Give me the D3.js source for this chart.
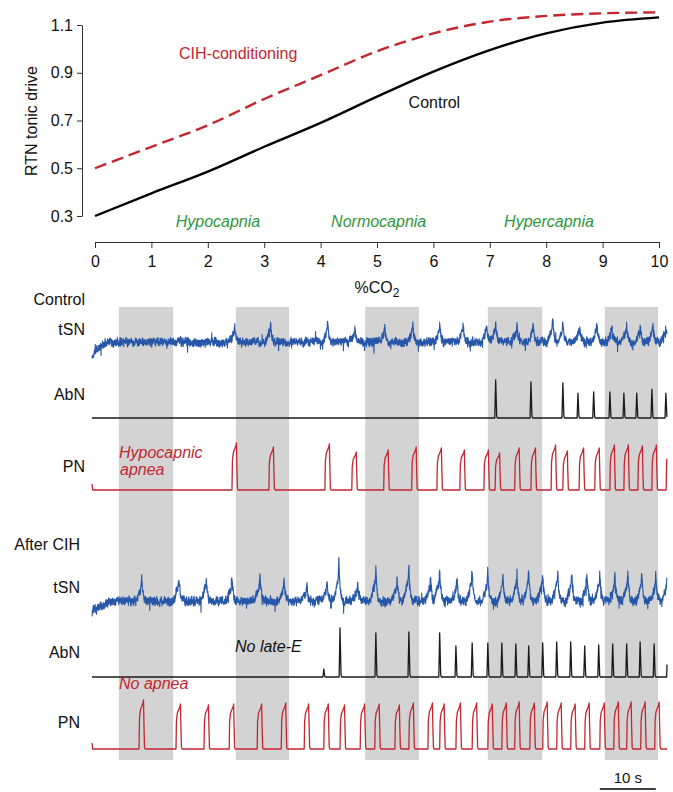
<!DOCTYPE html>
<html><head><meta charset="utf-8">
<script src="https://cdn.jsdelivr.net/npm/d3@7"></script>
<style>body{margin:0;background:#fff}svg{display:block}</style>
</head><body><svg id="c" width="673" height="792"></svg>
<script>
// ================= DATA =================
// Top panel: RTN tonic drive vs %CO2
const co2 = [0,1,2,3,4,5,6,7,8,9,10];
const controlDrive = [0.30,0.395,0.486,0.59,0.69,0.80,0.905,0.995,1.065,1.11,1.132];
const cihDrive     = [0.50,0.59,0.68,0.79,0.89,0.99,1.065,1.114,1.138,1.149,1.153];
const yTicks = [0.3,0.5,0.7,0.9,1.1];
const xTicks = [0,1,2,3,4,5,6,7,8,9,10];
const regionLabels = ["Hypocapnia","Normocapnia","Hypercapnia"];
const regionCenters = [2.18,5.03,8.05];

// Bottom panel: nerve recordings (time in s)
const traceDuration = 102.7;
const co2Bands = [[4.8,14.5],[25.7,35.2],[48.8,58.4],[70.7,80.4],[91.6,101.1]];

// Control
const ctrlTsnTimes = [25.5,31.9,42.1,47.0,52.3,57.3,62.1,66.3,70.5,72.1,75.9,78.8,82.3,84.1,87.1,90.2,92.9,95.5,97.9,100.2,102.5];
const ctrlTsnAmps  = [0.75,0.95,0.95,0.75,0.9,0.9,0.85,0.85,0.9,1.0,0.9,0.9,1.1,0.9,0.85,0.95,0.85,0.85,0.85,0.85,0.75];
const ctrlAbnTimes = [72.1,78.4,84.1,86.8,89.6,92.5,95.0,97.3,100.0,102.5];
const ctrlAbnAmps  = [0.95,0.9,0.875,0.62,0.65,0.65,0.62,0.62,0.72,0.62];
const ctrlPnTimes  = [25.0,31.6,41.6,46.4,52.1,57.1,61.6,65.7,70.0,72.0,75.5,78.4,82.0,84.1,87.0,89.8,92.5,95.0,97.5,100.0,102.55];
const ctrlPnAmps   = [0.94,0.86,0.92,0.76,0.80,0.86,0.84,0.80,0.80,0.74,0.84,0.84,0.90,0.78,0.84,0.84,0.90,0.90,0.88,0.90,0.9];

// After CIH
const cihTsnTimes = [8.9,15.5,20.4,25.0,30.0,34.3,38.4,42.0,44.1,47.5,50.7,54.5,56.6,60.5,62.1,65.2,67.9,70.7,73.4,75.9,78.0,80.5,83.2,85.7,88.4,90.7,93.4,95.7,98.2,100.7,102.7];
const cihTsnAmps  = [0.8,0.83,0.77,0.8,0.87,0.8,0.6,0.7,1.37,0.63,1.13,0.77,1.27,0.8,1.1,0.8,1.03,1.03,0.93,0.93,1.03,0.93,1.1,0.97,0.93,0.97,0.93,0.93,0.97,0.93,0.8];
const cihAbnTimes = [41.4,44.3,50.7,56.6,62.1,65.0,67.9,70.7,73.2,75.7,78.0,80.5,83.0,85.5,88.0,90.5,93.0,95.5,97.9,100.4,102.8];
const cihAbnAmps  = [0.16,0.98,0.88,0.9,0.88,0.62,0.68,0.68,0.68,0.66,0.62,0.68,0.7,0.7,0.62,0.64,0.66,0.66,0.7,0.66,0.66];
const cihPnTimes  = [8.4,15.0,20.0,24.5,29.5,33.8,37.9,41.4,44.3,47.9,50.5,54.1,56.6,60.0,62.1,65.0,67.9,70.7,73.2,75.5,78.2,80.5,83.0,85.5,88.0,90.7,93.2,95.5,98.0,100.5];
const cihPnAmps   = [0.98,0.9,0.88,0.9,0.9,0.92,0.9,0.9,0.88,0.9,0.9,0.88,0.92,0.92,0.9,0.92,0.92,0.9,0.92,0.94,0.92,0.94,0.92,0.9,0.92,0.92,0.94,0.94,0.94,0.94];

// Waveform shapes (time offset s, fraction of amplitude)
const pnShape  = [[0,0],[0.08,0.62],[0.25,0.8],[0.7,0.94],[0.8,1.0],[0.88,0.5],[0.98,0.03],[1.1,0]];
const abnShape = [[-0.16,0],[0,1],[0.18,0.05],[0.3,0]];
const tsnShape = [[-1.0,0],[-0.5,0.3],[-0.15,0.55],[0,1],[0.1,0.55],[0.35,0.15],[0.7,0]];
const ctrlTsnStart = [[0,-0.8],[0.5,-0.5],[1.3,-0.2],[3,0]];
const cihTsnStart  = [[0,-0.35],[1,-0.2],[3,-0.05],[4.5,0]];
const pnStart = [[0,0.12],[0.12,0]];

// ================= DRAW =================
const FONT = "'Liberation Sans', Arial, Helvetica, sans-serif";
const svg = d3.select("#c").style("font-family", FONT);
const RED = "#c3262e", GREEN = "#2f963a", BLUE = "#2656a8";

// ---- Top chart ----
const x = d3.scaleLinear().domain([0,10]).range([95,659]);
const y = d3.scaleLinear().domain([0.3,1.1]).range([216,25]);

const yAx = svg.append("g").attr("transform","translate(82,0)")
  .call(d3.axisLeft(y).tickValues(yTicks).tickSize(5).tickSizeOuter(0).tickPadding(4).tickFormat(d3.format(".1f")));
const xAx = svg.append("g").attr("transform","translate(0,242)")
  .call(d3.axisBottom(x).tickValues(xTicks).tickSize(6).tickSizeOuter(0).tickPadding(8));
[yAx,xAx].forEach(a=>{
  a.selectAll("text").style("font-size","16px").style("font-family",FONT).attr("fill","#111");
  a.selectAll("line,path").attr("stroke","#333");
});

svg.append("text").attr("transform","translate(37,121) rotate(-90)")
  .attr("text-anchor","middle").style("font-size","16px").attr("fill","#111").text("RTN tonic drive");
const xl = svg.append("text").attr("x",377).attr("y",293).attr("text-anchor","middle")
  .style("font-size","16px").attr("fill","#111");
xl.append("tspan").text("%CO");
xl.append("tspan").attr("dy",4).style("font-size","12px").text("2");

const line = d3.line().x((d,i)=>x(co2[i])).y(d=>y(d)).curve(d3.curveMonotoneX);
svg.append("path").attr("d",line(cihDrive)).attr("fill","none").attr("stroke",RED)
  .attr("stroke-width",2.4).attr("stroke-dasharray","12,6");
svg.append("path").attr("d",line(controlDrive)).attr("fill","none").attr("stroke","#000")
  .attr("stroke-width",2.4);

svg.append("text").attr("x",x(1.49)).attr("y",y(0.958)).style("font-size","16px").attr("fill",RED).text("CIH-conditioning");
svg.append("text").attr("x",x(5.56)).attr("y",y(0.752)).style("font-size","16px").attr("fill","#111").text("Control");
regionLabels.forEach((s,i)=>{
  svg.append("text").attr("x",x(regionCenters[i])).attr("y",227).attr("text-anchor","middle")
    .style("font-size","16px").style("font-style","italic").attr("fill",GREEN).text(s);
});

// ---- Bottom traces ----
const t = d3.scaleLinear().domain([0,traceDuration]).range([92,667]);
svg.append("g").selectAll("rect").data(co2Bands).join("rect")
  .attr("x",d=>t(d[0])).attr("width",d=>t(d[1])-t(d[0]))
  .attr("y",307).attr("height",453).attr("fill","#d3d3d3");

function shapeAt(tpl, dt){
  if(dt<=tpl[0][0]||dt>=tpl[tpl.length-1][0]) return 0;
  for(let i=1;i<tpl.length;i++){
    if(dt<=tpl[i][0]){const [t0,v0]=tpl[i-1],[t1,v1]=tpl[i];return v0+(v1-v0)*(dt-t0)/(t1-t0);}
  }
  return 0;
}
function hash(i,seed){const s=Math.sin(i*12.9898+seed*78.233)*43758.5453;return s-Math.floor(s);}
// recording-noise texture (deterministic), not data
function texture(seed, amp, spike){
  return i=>{
    const a=hash(i,seed)-0.5, b=hash(i,seed+1.7), c=hash(i,seed+3.1), d=hash(Math.floor(i/5),seed+5.3)-0.5;
    let v=a*2*amp + d*amp*1.2;
    if(b>0.975) v-=spike*c;
    else if(b<0.012) v+=spike*0.7*c;
    return v;
  };
}
function buildTrace(times, amps, shape, step, start, tex){
  const n=Math.round(traceDuration/step), pts=[];
  for(let i=0;i<=n;i++){
    const tt=Math.min(i*step,traceDuration);
    let v=0;
    for(let k=0;k<times.length;k++) v+=amps[k]*shapeAt(shape, tt-times[k]);
    if(start) v+= (tt<=start[start.length-1][0]) ? (tt===0?start[0][1]:shapeAt(start,tt)) : 0;
    if(tex) v+=tex(i);
    pts.push([tt,v]);
  }
  return pts;
}
function drawTrace(pts, y0, pxPerUnit, color, width){
  const ys = d3.scaleLinear().domain([0,1]).range([y0,y0-pxPerUnit]);
  svg.append("path").attr("d", d3.line().x(d=>t(d[0])).y(d=>ys(d[1]))(pts))
    .attr("fill","none").attr("stroke",color).attr("stroke-width",width).attr("stroke-linejoin","round");
}

drawTrace(buildTrace(ctrlTsnTimes,ctrlTsnAmps,tsnShape,0.03,ctrlTsnStart,texture(1,0.17,0.45)),342,20,BLUE,1.1);
drawTrace(buildTrace(ctrlAbnTimes,ctrlAbnAmps,abnShape,0.02,null,null),418,40,"#1a1a1a",1.3);
drawTrace(buildTrace(ctrlPnTimes,ctrlPnAmps,pnShape,0.02,pnStart,null),490,50,RED,1.3);
drawTrace(buildTrace(cihTsnTimes,cihTsnAmps,tsnShape,0.03,cihTsnStart,texture(7,0.12,0.3)),601,30,BLUE,1.1);
drawTrace(buildTrace(cihAbnTimes,cihAbnAmps,abnShape,0.02,null,null),677,50,"#1a1a1a",1.3);
drawTrace(buildTrace(cihPnTimes,cihPnAmps,pnShape,0.02,pnStart,null),749,50,RED,1.3);

// Labels
const rowLabels = [
  ["Control",85,305],["tSN",85,335],["AbN",85,400],["PN",85,472],
  ["After CIH",80,550],["tSN",80,593],["AbN",80,658],["PN",80,728]
];
rowLabels.forEach(([s,xx,yy])=>svg.append("text").attr("x",xx).attr("y",yy).attr("text-anchor","end")
  .style("font-size","16px").attr("fill","#111").text(s));

const notes = [
  ["Hypocapnic",119,458,RED],["apnea",120,475,RED],
  ["No late-E",235,652,"#111"],["No apnea",119,689,RED]
];
notes.forEach(([s,xx,yy,c])=>svg.append("text").attr("x",xx).attr("y",yy)
  .style("font-size","16px").style("font-style","italic").attr("fill",c).text(s));

// Scale bar 10 s
const sb0 = 90.7;
svg.append("line").attr("x1",t(sb0)).attr("x2",t(sb0+10)).attr("y1",789).attr("y2",789)
  .attr("stroke","#000").attr("stroke-width",1.5);
svg.append("text").attr("x",(t(sb0)+t(sb0+10))/2).attr("y",783).attr("text-anchor","middle")
  .style("font-size","15px").attr("fill","#111").text("10 s");
</script></body></html>
